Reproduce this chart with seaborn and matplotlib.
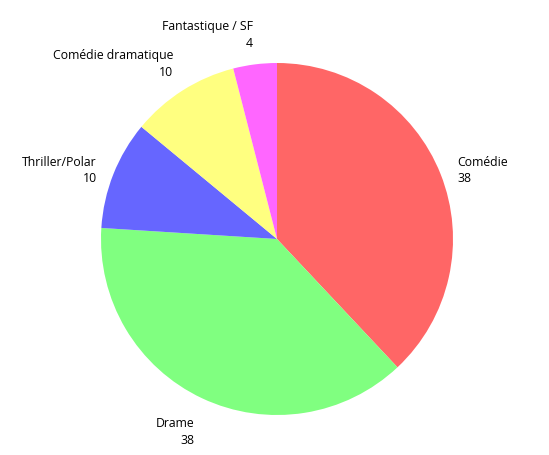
import numpy as np
import matplotlib
matplotlib.use('Agg')
import matplotlib.pyplot as plt
import seaborn as sns

# Data ------------------------------------------------------------------------
genres = ['Comédie', 'Drame', 'Thriller/Polar', 'Comédie dramatique', 'Fantastique / SF']
counts = [38, 38, 10, 10, 4]
colors = ['#FF6666', '#80FF80', '#6666FF', '#FFFF80', '#FF66FF']

# Style -----------------------------------------------------------------------
sns.set_theme(style='white')
plt.rcParams['font.family'] = ['Open Sans', 'DejaVu Sans']

fig = plt.figure(figsize=(5.49, 4.56), dpi=100)
ax = fig.add_axes([0, 0, 1, 1])

cx, cy, r = 277, 216, 176
wedges, _ = ax.pie(counts, colors=colors, startangle=90, counterclock=False,
                   center=(cx, cy), radius=r, frame=True,
                   wedgeprops=dict(linewidth=0))
ax.set_xlim(0, 549)
ax.set_ylim(0, 456)
ax.set_aspect('equal')
ax.axis('off')

# labels outside each slice: name then value
for w, name, val in zip(wedges, genres, counts):
    mid = np.deg2rad((w.theta1 + w.theta2) / 2)
    x = cx + 1.1 * r * np.cos(mid)
    y = cy + 1.1 * r * np.sin(mid)
    ha = 'left' if np.cos(mid) > 0 else 'right'
    s = np.sin(mid)
    va = 'bottom' if s > 0.5 else ('top' if s < -0.5 else 'center')
    ax.text(x, y - 2, f'{name}\n{val}', ha=ha, va=va, multialignment=ha,
            fontsize=8.8, color='black', linespacing=1.35)

fig.savefig('out.png', dpi=100)
